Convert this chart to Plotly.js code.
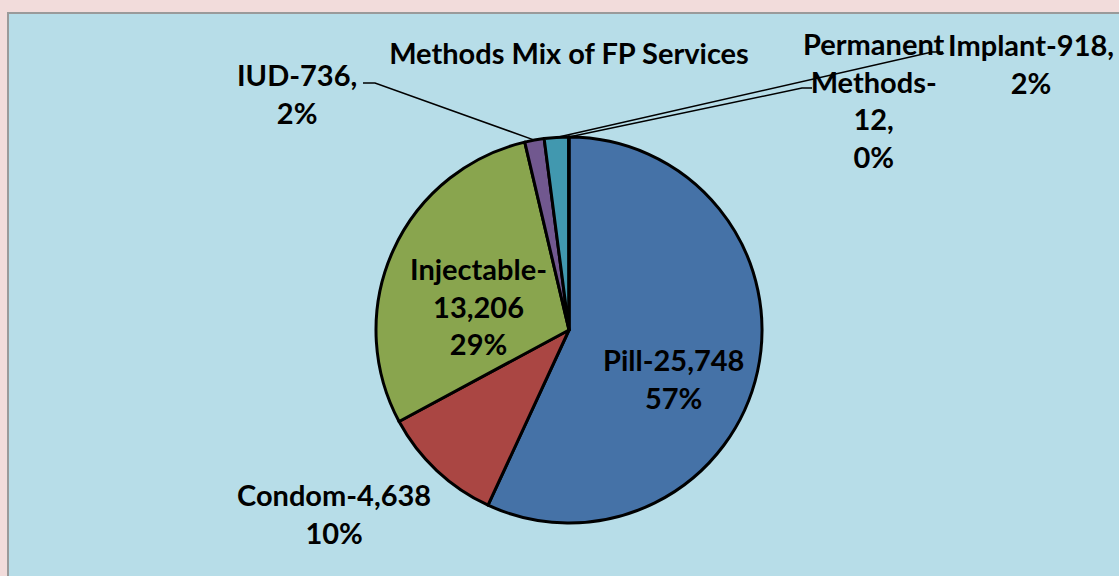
<!DOCTYPE html>
<html>
<head>
<meta charset="utf-8">
<script src="https://cdn.plot.ly/plotly-3.0.1.min.js"></script>
<style>html,body{margin:0;padding:0;background:#f2dcdb;}#chart{width:1119px;height:576px;}</style>
</head>
<body>
<div id="chart"></div>
<script>
// Data
var categories = ["Pill", "Condom", "Injectable", "IUD", "Implant", "Permanent Methods"];
var counts = [25748, 4638, 13206, 736, 918, 12];
var percentLabels = ["57%", "10%", "29%", "2%", "2%", "0%"];
var sliceColors = ["#4572a7", "#aa4643", "#89a54e", "#71588f", "#4198af", "#db843d"];
var chartTitle = "Methods Mix of FP Services";

var W = 1119, H = 576;
function px(x) { return x / W; }
function py(y) { return 1 - y / H; }

// pie geometry (pixels)
var cx = 569, cy = 330, R = 193;

var total = counts.reduce(function (a, b) { return a + b; }, 0);
function edgePoint(i) {
  var before = 0;
  for (var k = 0; k < i; k++) before += counts[k];
  var mid = (before + counts[i] / 2) / total;
  var ang = mid * 2 * Math.PI; // clockwise from top
  return [cx + R * Math.sin(ang), cy - R * Math.cos(ang)];
}

var font = { family: "Lato, 'Open Sans', sans-serif", size: 29, color: "#000000", weight: 700 };

var trace = {
  type: "pie",
  labels: categories,
  values: counts,
  sort: false,
  direction: "clockwise",
  rotation: 0,
  textinfo: "none",
  hoverinfo: "label+value+percent",
  marker: { colors: sliceColors, line: { color: "#000000", width: 3 } },
  domain: { x: [px(cx - R), px(cx + R)], y: [py(cy + R), py(cy - R)] },
  showlegend: false
};

function fmt(n) { return n.toLocaleString("en-US"); }

var annotations = [
  { text: categories[0] + "-" + fmt(counts[0]) + "<br>" + percentLabels[0], x: px(673), y: py(378) },
  { text: categories[1] + "-" + fmt(counts[1]) + "<br>" + percentLabels[1], x: px(334), y: py(513) },
  { text: categories[2] + "-<br>" + fmt(counts[2]) + "<br>" + percentLabels[2], x: px(478), y: py(306) },
  { text: categories[3] + "-" + fmt(counts[3]) + ",<br>" + percentLabels[3], x: px(297), y: py(93) },
  { text: categories[4] + "-" + fmt(counts[4]) + ",<br>" + percentLabels[4], x: px(1031), y: py(63) },
  { text: "Permanent<br>Methods-<br>" + fmt(counts[5]) + ",<br>" + percentLabels[5], x: px(874), y: py(100) }
].map(function (a) {
  return { text: a.text, x: a.x, y: a.y, xref: "paper", yref: "paper", xanchor: "center", yanchor: "middle",
           showarrow: false, font: font, align: "center" };
});

function leader(i, elbowX, elbowY, endX) {
  var p = edgePoint(i);
  return {
    type: "path", xref: "paper", yref: "paper",
    path: "M " + px(p[0]) + " " + py(p[1]) + " L " + px(elbowX) + " " + py(elbowY) + " L " + px(endX) + " " + py(elbowY),
    line: { color: "#000000", width: 1.5 }
  };
}

var shapes = [
  { type: "rect", xref: "paper", yref: "paper", x0: px(8), x1: 1.02, y0: -0.02, y1: py(13),
    fillcolor: "#b7dde8", line: { color: "#9a9a9a", width: 2 }, layer: "below" },
  leader(3, 375, 83, 363),
  leader(4, 932, 52, 943),
  leader(5, 802, 88, 812)
];

var layout = {
  width: W, height: H,
  margin: { l: 0, r: 0, t: 0, b: 0 },
  paper_bgcolor: "#f2dcdb",
  title: { text: chartTitle, x: px(569), y: py(54), xanchor: "center", yanchor: "middle", xref: "paper", yref: "paper",
           font: { family: "Lato, 'Open Sans', sans-serif", size: 29, color: "#000000", weight: 700 } },
  annotations: annotations,
  shapes: shapes
};

Plotly.newPlot("chart", [trace], layout, { displayModeBar: false, staticPlot: true });
</script>
</body>
</html>
